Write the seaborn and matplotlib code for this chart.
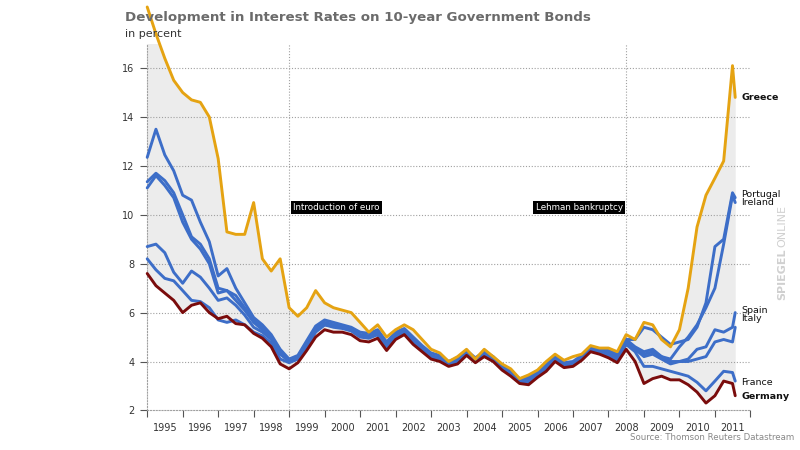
import matplotlib
matplotlib.use("Agg")
import matplotlib.pyplot as plt
import seaborn as sns
import pandas as pd

# quarterly readings, last point = end of July 2011
dates = list(pd.date_range("1995-01-01", "2011-07-01", freq="QS")) + [pd.Timestamp("2011-07-29")]

greece = [18.5, 17.4, 16.4, 15.5,
          15.0, 14.7, 14.6, 14.0,
          12.3, 9.3, 9.2, 9.2,
          10.5, 8.2, 7.7, 8.2,
          6.2, 5.85, 6.2, 6.9,
          6.4, 6.2, 6.1, 6.0,
          5.6, 5.2, 5.5, 5.0,
          5.3, 5.5, 5.3, 4.9,
          4.5, 4.35, 4.0, 4.2,
          4.5, 4.1, 4.5, 4.2,
          3.9, 3.7, 3.3, 3.45,
          3.65, 4.0, 4.3, 4.05,
          4.2, 4.3, 4.65, 4.55,
          4.55, 4.4, 5.1, 4.9,
          5.6, 5.5, 4.9, 4.6,
          5.3, 7.0, 9.5, 10.8,
          11.5, 12.2, 16.1, 14.8]

germany = [7.6, 7.1, 6.8, 6.5,
           6.0, 6.3, 6.4, 6.0,
           5.75, 5.85, 5.55, 5.5,
           5.15, 4.95, 4.6, 3.9,
           3.7, 3.95, 4.45, 5.0,
           5.3, 5.2, 5.2, 5.1,
           4.85, 4.8, 4.95, 4.45,
           4.9, 5.1, 4.7, 4.4,
           4.1, 4.0, 3.8, 3.9,
           4.25, 3.95, 4.2, 4.0,
           3.65, 3.4, 3.1, 3.05,
           3.35, 3.6, 4.0, 3.75,
           3.8, 4.05, 4.4, 4.3,
           4.15, 3.95, 4.5, 4.0,
           3.1, 3.3, 3.4, 3.25,
           3.25, 3.05, 2.75, 2.3,
           2.6, 3.2, 3.1, 2.6]

france = [8.2, 7.75, 7.4, 7.3,
          6.9, 6.5, 6.45, 6.2,
          5.7, 5.6, 5.7, 5.5,
          5.2, 5.05, 4.75, 4.1,
          3.95, 4.1, 4.6, 5.2,
          5.5, 5.4, 5.35, 5.25,
          5.0, 4.95, 5.1, 4.6,
          5.0, 5.2, 4.85, 4.5,
          4.15, 4.05, 3.85, 3.95,
          4.3, 4.0, 4.25, 4.05,
          3.7, 3.45, 3.15, 3.15,
          3.45, 3.7, 4.05, 3.8,
          3.85, 4.1, 4.45, 4.35,
          4.2, 4.05, 4.7, 4.4,
          3.8, 3.8, 3.7, 3.6,
          3.5, 3.4, 3.15, 2.8,
          3.2, 3.6, 3.55, 3.2]

italy = [12.35, 13.5, 12.45, 11.8,
         10.8, 10.6, 9.7, 8.9,
         7.5, 7.8, 7.0, 6.4,
         5.8, 5.5, 5.1, 4.5,
         4.1, 4.25, 4.85, 5.45,
         5.7, 5.6, 5.5, 5.4,
         5.2, 5.15, 5.3, 4.8,
         5.2, 5.35, 5.0, 4.65,
         4.35, 4.25, 4.0, 4.15,
         4.45, 4.15, 4.4, 4.2,
         3.85, 3.6, 3.3, 3.35,
         3.6, 3.9, 4.2, 3.95,
         4.0, 4.25, 4.6, 4.5,
         4.45, 4.3, 4.9, 4.6,
         4.4, 4.5, 4.2, 4.0,
         4.0, 4.0, 4.1, 4.2,
         4.8, 4.9, 4.8, 5.4]

spain = [11.35, 11.7, 11.4, 10.9,
         10.0, 9.1, 8.8, 8.2,
         7.0, 6.9, 6.7, 6.2,
         5.7, 5.4, 5.0, 4.4,
         4.05, 4.2, 4.75, 5.35,
         5.6, 5.5, 5.45, 5.35,
         5.1, 5.05, 5.2, 4.7,
         5.1, 5.3, 4.95, 4.55,
         4.25, 4.15, 3.95, 4.05,
         4.4, 4.1, 4.35, 4.15,
         3.8, 3.55, 3.25, 3.25,
         3.55, 3.8, 4.15, 3.9,
         3.95, 4.2, 4.55, 4.45,
         4.35, 4.2, 4.8, 4.5,
         4.2, 4.3, 4.1, 3.9,
         4.0, 4.1, 4.5, 4.6,
         5.3, 5.2, 5.4, 6.0]

portugal = [11.1, 11.6, 11.2, 10.7,
            9.7, 9.0, 8.6, 8.0,
            6.8, 6.9, 6.5, 6.1,
            5.6, 5.3, 4.95, 4.35,
            4.0, 4.15, 4.7, 5.3,
            5.55, 5.45, 5.4, 5.3,
            5.05, 5.0, 5.15, 4.65,
            5.05, 5.25, 4.9, 4.55,
            4.2, 4.1, 3.9, 4.0,
            4.35, 4.05, 4.3, 4.1,
            3.75, 3.5, 3.2, 3.2,
            3.5, 3.75, 4.1, 3.85,
            3.9, 4.15, 4.5, 4.4,
            4.3, 4.15, 4.8, 4.5,
            4.3, 4.4, 4.2, 4.1,
            4.6, 5.0, 5.5, 6.2,
            7.0, 8.8, 10.8, 10.5]

ireland = [8.7, 8.8, 8.45, 7.65,
           7.2, 7.7, 7.45, 7.0,
           6.5, 6.6, 6.3, 5.9,
           5.4, 5.2, 4.9, 4.3,
           4.0, 4.1, 4.65, 5.25,
           5.5, 5.45, 5.4, 5.3,
           5.05, 5.0, 5.1, 4.6,
           5.0, 5.2, 4.85, 4.5,
           4.15, 4.1, 3.9, 3.95,
           4.3, 4.0, 4.3, 4.1,
           3.75, 3.5, 3.2, 3.2,
           3.5, 3.75, 4.1, 3.85,
           3.9, 4.15, 4.5, 4.4,
           4.35, 4.2, 4.9, 4.9,
           5.4, 5.3, 5.0, 4.7,
           4.8, 4.9, 5.4, 6.4,
           8.7, 9.0, 10.9, 10.7]

countries = ["France", "Italy", "Spain", "Portugal", "Ireland", "Germany", "Greece"]
blue = "#3d6ec8"
palette = {"France": blue, "Italy": blue, "Spain": blue, "Portugal": blue,
           "Ireland": blue, "Germany": "#7a0c0c", "Greece": "#e5a312"}

years = [d.year + (d.dayofyear - 1) / 365.25 for d in dates]
wide = pd.DataFrame({"France": france, "Italy": italy, "Spain": spain,
                     "Portugal": portugal, "Ireland": ireland,
                     "Germany": germany, "Greece": greece}, index=years)
wide.index.name = "year"
long = wide.reset_index().melt(id_vars="year", var_name="country", value_name="rate")

sns.set_theme(style="white")
plt.rcParams['font.family'] = ['DejaVu Sans']

fig = plt.figure(figsize=(8, 4.5), dpi=100)
ax = fig.add_axes([0.184, 0.088, 0.754, 0.815])

grid_col = "#a0a0a0"
dots = (0, (1, 1.6))

# grey band between highest and lowest yield
ax.fill_between(wide.index, wide.min(axis=1), wide.max(axis=1), color="#ececec", lw=0, zorder=1)
for yv in range(4, 17, 2):
    ax.axhline(yv, color=grid_col, ls=dots, lw=0.8, zorder=2)

sns.lineplot(data=long, x="year", y="rate", hue="country", hue_order=countries,
             palette=palette, lw=2.1, legend=False, ax=ax, zorder=3)
for ln in ax.lines:
    ln.set_clip_on(False)
    ln.set_solid_joinstyle("round")

ax.set_xlim(1995, 2012)
ax.set_ylim(2, 17)

# event markers
for xv in [1999.0, 2008.5]:
    ax.axvline(xv, color=grid_col, ls=dots, lw=0.8, zorder=2)
box = dict(facecolor="black", edgecolor="none", pad=1.6)
ax.text(1999.12, 10.3, "Introduction of euro", color="white", fontsize=6.3,
        ha="left", va="center", bbox=box, zorder=5)
ax.text(2008.4, 10.3, "Lehman bankruptcy", color="white", fontsize=6.3,
        ha="right", va="center", bbox=box, zorder=5)

# axes styling
sns.despine(ax=ax)
for s in ["left", "bottom"]:
    ax.spines[s].set_linestyle(dots)
    ax.spines[s].set_color(grid_col)
    ax.spines[s].set_linewidth(0.8)

ax.set_yticks(range(2, 17, 2))
ax.tick_params(axis="y", which="major", left=True, length=5, width=0.8, color="#555",
               labelsize=7, labelcolor="#333", pad=4)
ax.set_xticks(range(1995, 2013))
ax.set_xticklabels([])
ax.set_xticks([y + 0.5 for y in range(1995, 2012)], minor=True)
ax.set_xticklabels([str(y) for y in range(1995, 2012)], minor=True)
ax.tick_params(axis="x", which="major", bottom=True, length=5, width=0.8, color="#555")
ax.tick_params(axis="x", which="minor", bottom=False, labelsize=7, labelcolor="#333", pad=5)
ax.set_xlabel("")
ax.set_ylabel("")

# end labels
lx = 2011.75
lab = dict(fontsize=6.8, color="#111", ha="left", va="center", clip_on=False)
ax.text(lx, 14.8, "Greece", fontweight="bold", **lab)
ax.text(lx, 10.85, "Portugal", **lab)
ax.text(lx, 10.5, "Ireland", **lab)
ax.text(lx, 6.1, "Spain", **lab)
ax.text(lx, 5.75, "Italy", **lab)
ax.text(lx, 3.15, "France", **lab)
ax.text(lx, 2.55, "Germany", fontweight="bold", **lab)

fig.text(0.156, 0.96, "Development in Interest Rates on 10-year Government Bonds",
         fontsize=9.6, fontweight="bold", color="#6b6b6b", va="center")
fig.text(0.156, 0.925, "in percent", fontsize=8, color="#333", va="center")
fig.text(0.993, 0.027, "Source: Thomson Reuters Datastream", fontsize=6.2,
         color="#888", ha="right", va="center")
fig.text(0.978, 0.39, "SPIEGEL", fontsize=8, fontweight="bold", color="#d0d0d0",
         rotation=90, ha="center", va="center")
fig.text(0.978, 0.497, "ONLINE", fontsize=8, color="#d0d0d0",
         rotation=90, ha="center", va="center")

fig.savefig("out.png", dpi=100)
